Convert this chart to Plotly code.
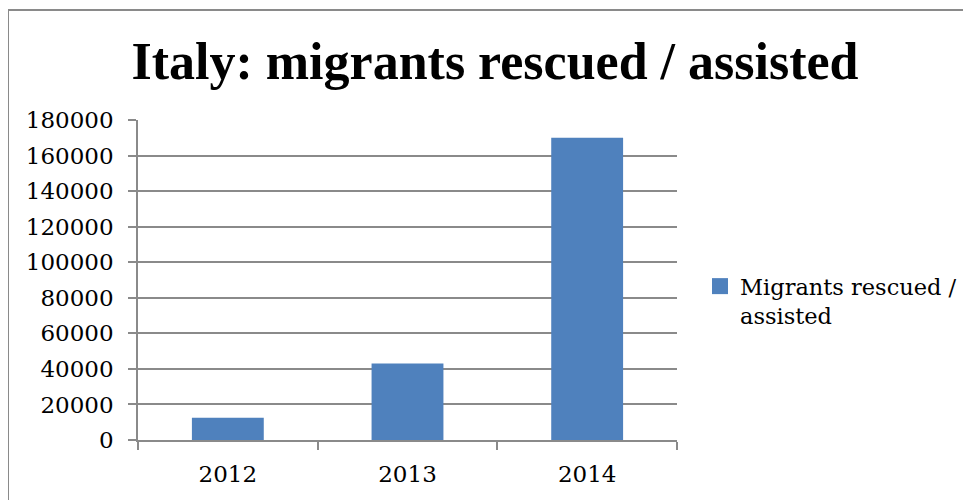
import plotly.graph_objects as go

years = ["2012", "2013", "2014"]
migrants = [12500, 43000, 170000]
series_name = "Migrants rescued /<br>assisted"
title_text = "Italy: migrants rescued / assisted"

OFF = 8  # page body margin
W, H = 971 - OFF, 500 - OFF
L, R, T, B = 138 - OFF, 677 - OFF, 120 - OFF, 440 - OFF
pw, ph = R - L, B - T

def px_x(x):
    return (x - OFF - L) / pw

def px_y(y):
    return (B - (y - OFF)) / ph

grey = "#8a8a8a"
blue = "#4F81BD"
font = "DejaVu Serif"
title_font = "Liberation Serif"

fig = go.Figure()
fig.add_trace(go.Bar(x=years, y=migrants, name=series_name,
                     marker=dict(color=blue, line=dict(width=0)),
                     showlegend=False, legendgroup="m"))
fig.add_trace(go.Scatter(x=[None], y=[None], mode="markers", name=series_name,
                         marker=dict(symbol="square", size=18, color=blue),
                         showlegend=True, legendgroup="m", hoverinfo="skip"))

fig.update_layout(
    width=W, height=H,
    margin=dict(l=L, r=W - R, t=T, b=H - B, autoexpand=False),
    paper_bgcolor="white", plot_bgcolor="white",
    bargap=0.6,
    font=dict(family=font, size=22, color="black"),
    title=dict(text="<b>" + title_text + "</b>", x=px_x(495), xanchor="center",
               xref="paper",
               y=1 - (61 - OFF) / H, yanchor="middle",
               font=dict(family=title_font, size=52, color="black")),
    showlegend=True,
    legend=dict(x=px_x(700), y=px_y(301), xanchor="left", yanchor="middle",
                valign="top",
                font=dict(family=font, size=22.5, color="black"),
                bgcolor="rgba(0,0,0,0)", itemwidth=30),
    xaxis=dict(type="category", showline=True, linecolor=grey, linewidth=1.5,
               ticks="outside", ticklen=8, tickcolor=grey, tickwidth=1.5,
               tickson="boundaries", showgrid=False, ticklabelstandoff=13,
               tickfont=dict(family=font, size=23)),
    yaxis=dict(range=[0, 180000], dtick=20000, tick0=0, tickformat="d",
               showline=True, linecolor=grey, linewidth=1.5,
               ticks="outside", ticklen=8, tickcolor=grey, tickwidth=1.5,
               showgrid=True, gridcolor=grey, gridwidth=1.5, zeroline=False,
               ticklabelstandoff=10,
               tickfont=dict(family=font, size=23)),
    shapes=[dict(type="rect", xref="paper", yref="paper",
                 x0=px_x(8), x1=px_x(990), y0=px_y(520), y1=px_y(10),
                 line=dict(color=grey, width=2), fillcolor="rgba(0,0,0,0)",
                 layer="below")],
)

fig.write_html("out.html")
